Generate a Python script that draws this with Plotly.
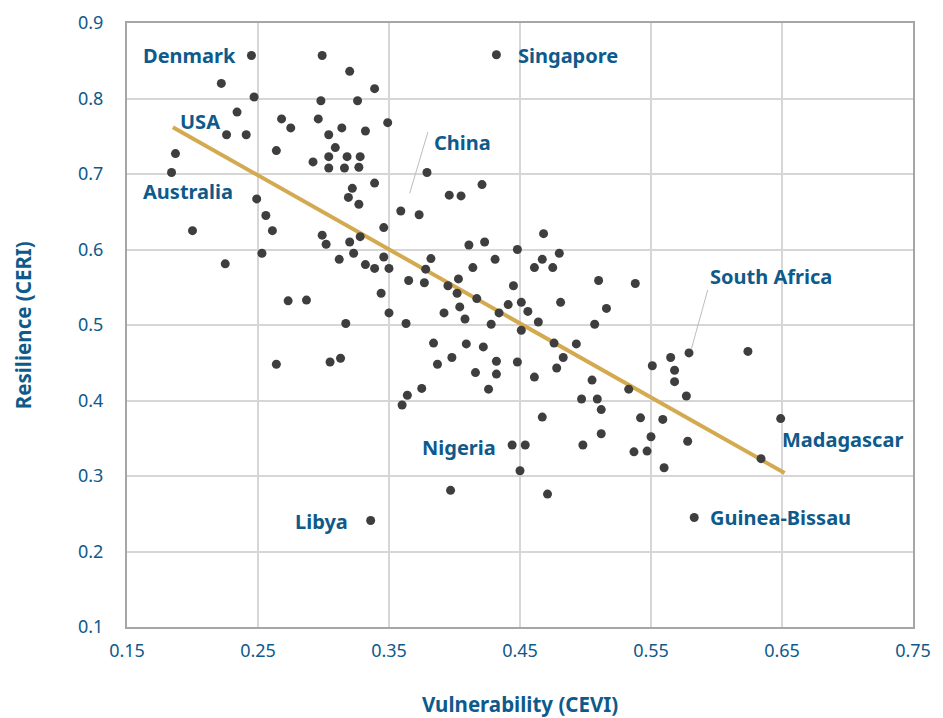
import plotly.graph_objects as go

# ---- data ----
cevi = [0.245, 0.222, 0.247, 0.298, 0.234, 0.268, 0.275, 0.296, 0.226, 0.241,
        0.187, 0.264, 0.292, 0.184, 0.249, 0.256, 0.299, 0.320, 0.339, 0.326,
        0.349, 0.314, 0.304, 0.332, 0.309, 0.304, 0.318, 0.328, 0.304, 0.316,
        0.327, 0.379, 0.339, 0.322, 0.319, 0.327, 0.396, 0.405, 0.421, 0.359,
        0.373, 0.432, 0.200, 0.261, 0.253, 0.225, 0.273, 0.287, 0.264, 0.346,
        0.299, 0.302, 0.320, 0.328, 0.323, 0.312, 0.332, 0.339, 0.346, 0.350,
        0.344, 0.350, 0.317, 0.363, 0.365, 0.377, 0.378, 0.382, 0.411, 0.423,
        0.431, 0.414, 0.403, 0.395, 0.402, 0.417, 0.404, 0.392, 0.408, 0.428,
        0.434, 0.441, 0.445, 0.305, 0.313, 0.384, 0.387, 0.398, 0.409, 0.422,
        0.432, 0.416, 0.432, 0.426, 0.375, 0.364, 0.360, 0.468, 0.448, 0.480,
        0.467, 0.461, 0.475, 0.510, 0.538, 0.451, 0.456, 0.481, 0.516, 0.464,
        0.507, 0.451, 0.476, 0.493, 0.483, 0.448, 0.478, 0.461, 0.505, 0.533,
        0.497, 0.509, 0.512, 0.467, 0.542, 0.559, 0.551, 0.565, 0.579, 0.568,
        0.568, 0.577, 0.624, 0.649, 0.444, 0.454, 0.498, 0.512, 0.550, 0.537,
        0.547, 0.578, 0.450, 0.560, 0.471, 0.583, 0.634, 0.397, 0.336]
ceri = [0.857, 0.820, 0.802, 0.797, 0.782, 0.773, 0.761, 0.773, 0.752, 0.752,
        0.727, 0.731, 0.716, 0.702, 0.667, 0.645, 0.857, 0.836, 0.813, 0.797,
        0.768, 0.761, 0.752, 0.757, 0.735, 0.723, 0.723, 0.723, 0.708, 0.708,
        0.709, 0.702, 0.688, 0.681, 0.669, 0.660, 0.672, 0.671, 0.686, 0.651,
        0.646, 0.858, 0.625, 0.625, 0.595, 0.581, 0.532, 0.533, 0.448, 0.629,
        0.619, 0.607, 0.610, 0.617, 0.595, 0.587, 0.580, 0.575, 0.590, 0.575,
        0.542, 0.516, 0.502, 0.502, 0.559, 0.556, 0.574, 0.588, 0.606, 0.610,
        0.587, 0.576, 0.561, 0.552, 0.542, 0.535, 0.524, 0.516, 0.508, 0.501,
        0.516, 0.527, 0.552, 0.451, 0.456, 0.476, 0.448, 0.457, 0.475, 0.471,
        0.452, 0.437, 0.435, 0.415, 0.416, 0.407, 0.394, 0.621, 0.600, 0.595,
        0.587, 0.576, 0.576, 0.559, 0.555, 0.530, 0.518, 0.530, 0.522, 0.504,
        0.501, 0.493, 0.476, 0.475, 0.457, 0.451, 0.443, 0.431, 0.427, 0.415,
        0.402, 0.402, 0.388, 0.378, 0.377, 0.375, 0.446, 0.457, 0.463, 0.440,
        0.425, 0.406, 0.465, 0.376, 0.341, 0.341, 0.341, 0.356, 0.352, 0.332,
        0.333, 0.346, 0.307, 0.311, 0.276, 0.245, 0.323, 0.281, 0.241]

trend_x = [0.185, 0.652]
trend_y = [0.762, 0.304]

x_ticks = [0.15, 0.25, 0.35, 0.45, 0.55, 0.65, 0.75]
x_tick_labels = ["0.15", "0.25", "0.35", "0.45", "0.55", "0.65", "0.75"]
y_ticks = [0.1, 0.2, 0.3, 0.4, 0.5, 0.6, 0.7, 0.8, 0.9]
y_tick_labels = ["0.1", "0.2", "0.3", "0.4", "0.5", "0.6", "0.7", "0.8", "0.9"]

label_names = ["Denmark", "Singapore", "USA", "Australia", "China", "South Africa",
               "Nigeria", "Madagascar", "Guinea-Bissau", "Libya"]
label_x = [0.2347, 0.4468, 0.1889, 0.1607, 0.3827, 0.5933, 0.4331, 0.6483, 0.5933, 0.3202]
label_y = [0.8563, 0.8563, 0.7702, 0.6762, 0.7411, 0.5636, 0.3384, 0.3477, 0.2444, 0.2404]
label_anchor = ["right", "left", "left", "left", "left", "left", "right", "left", "left", "right"]

leader_x0 = [0.3797, 0.5933]
leader_y0 = [0.7556, 0.5464]
leader_x1 = [0.3658, 0.5809]
leader_y1 = [0.6744, 0.4687]

BLUE = "#0E5A8A"
FONT = "Noto Sans"

fig = go.Figure()
fig.add_trace(go.Scatter(x=trend_x, y=trend_y, mode="lines",
                         line=dict(color="#D4AA50", width=4), hoverinfo="skip",
                         showlegend=False))
fig.add_trace(go.Scatter(x=cevi, y=ceri, mode="markers",
                         marker=dict(color="#3E3E3E", size=9), showlegend=False))

shapes = []
for x0, y0, x1, y1 in zip(leader_x0, leader_y0, leader_x1, leader_y1):
    shapes.append(dict(type="line", xref="x", yref="y", x0=x0, y0=y0, x1=x1, y1=y1,
                       line=dict(color="#BDBDBD", width=1), layer="above"))
shapes.append(dict(type="line", xref="x", yref="paper", x0=0.45, x1=0.45, y0=0, y1=1,
                   line=dict(color="#A6A6A6", width=2), layer="below"))
shapes.append(dict(type="line", xref="paper", yref="y", x0=0, x1=1, y0=0.5, y1=0.5,
                   line=dict(color="#A6A6A6", width=2), layer="below"))

annotations = []
for name, lx, ly, anc in zip(label_names, label_x, label_y, label_anchor):
    annotations.append(dict(x=lx, y=ly, xref="x", yref="y", text=name, showarrow=False,
                            xanchor=anc, yanchor="middle",
                            font=dict(family=FONT, size=20, color=BLUE, weight="bold")))
annotations.append(dict(x=0.5, y=-0.127, xref="paper", yref="paper",
                        text="Vulnerability (CEVI)", showarrow=False,
                        xanchor="center", yanchor="middle", borderpad=0,
                        font=dict(family=FONT, size=20.5, color=BLUE, weight="bold")))
annotations.append(dict(x=-0.132, y=0.5, xref="paper", yref="paper",
                        text="Resilience (CERI)", showarrow=False, textangle=-90,
                        xanchor="center", yanchor="middle", borderpad=0,
                        font=dict(family=FONT, size=20.5, color=BLUE, weight="bold")))

fig.update_layout(
    width=943, height=718,
    margin=dict(l=119, r=38, t=15, b=99),
    paper_bgcolor="white", plot_bgcolor="white",
    shapes=shapes, annotations=annotations,
    font=dict(family=FONT, color=BLUE),
    xaxis=dict(range=[0.15, 0.75], tickvals=x_ticks, ticktext=x_tick_labels,
               showgrid=True, gridcolor="#D6D6D6", gridwidth=1.5,
               showline=True, mirror=True, linecolor="#A6A6A6", linewidth=2,
               zeroline=False, ticks="", ticklabelstandoff=6, automargin=False,
               tickfont=dict(family=FONT, size=18, color=BLUE)),
    yaxis=dict(range=[0.1, 0.9], tickvals=y_ticks, ticktext=y_tick_labels,
               showgrid=True, gridcolor="#D6D6D6", gridwidth=1.5,
               showline=True, mirror=True, linecolor="#A6A6A6", linewidth=2,
               zeroline=False, ticks="", ticklabelstandoff=18, automargin=False,
               tickfont=dict(family=FONT, size=18, color=BLUE)),
)

fig.write_html("out.html")
